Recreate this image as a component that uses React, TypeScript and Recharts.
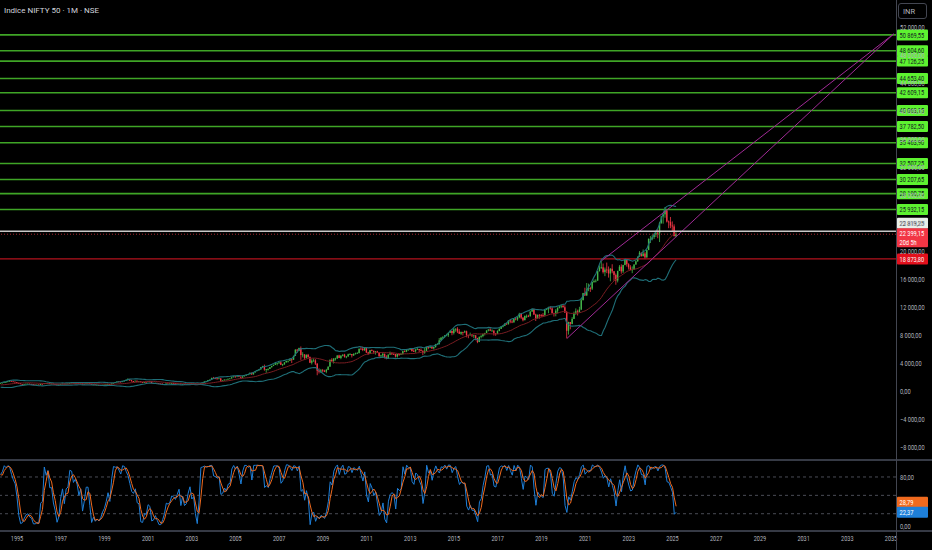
import React from "react"
import { ComposedChart, Bar, Line, XAxis, YAxis, ReferenceLine } from "recharts"

// Monthly NIFTY 50, first bar Jan 1992
const START_YEAR = 1992
const FIRST_OPEN = 600

const CLOSE = [
  620, 830, 1250, 1100, 990, 1000, 920, 880, 920, 850, 800, 800, // 1992
  760, 740, 690, 640, 700, 720, 730, 800, 880, 850, 880, 1020, // 1993
  1200, 1190, 1100, 1150, 1180, 1260, 1270, 1390, 1450, 1370, 1320, 1280, // 1994
  1160, 1090, 990, 960, 1000, 1030, 1040, 1010, 1000, 930, 900, 910, // 1995
  880, 1020, 985, 1120, 1100, 1150, 1060, 1060, 980, 940, 870, 900, // 1996
  1000, 1050, 970, 1050, 1060, 1150, 1190, 1120, 1140, 1110, 1040, 1080, // 1997
  950, 1030, 1120, 1120, 1030, 900, 930, 870, 880, 830, 850, 880, // 1998
  900, 940, 990, 940, 1070, 1140, 1270, 1350, 1330, 1300, 1390, 1480, // 1999
  1550, 1650, 1530, 1410, 1380, 1470, 1330, 1380, 1270, 1170, 1270, 1260, // 2000
  1370, 1350, 1150, 1130, 1160, 1110, 1070, 1050, 910, 970, 1070, 1060, // 2001
  1080, 1140, 1130, 1080, 1030, 1060, 960, 1010, 960, 970, 1050, 1090, // 2002
  1040, 1050, 980, 930, 1010, 1130, 1190, 1360, 1420, 1560, 1620, 1880, // 2003
  1810, 1800, 1770, 1800, 1480, 1510, 1630, 1630, 1750, 1790, 1960, 2080, // 2004
  2060, 2100, 2040, 1900, 2090, 2220, 2310, 2380, 2600, 2370, 2650, 2840, // 2005
  3000, 3070, 3400, 3560, 3070, 3130, 3140, 3410, 3590, 3740, 3950, 3970, // 2006
  4080, 3750, 3820, 4090, 4300, 4320, 4530, 4460, 5020, 5900, 5760, 6140, // 2007
  5140, 5220, 4730, 5170, 4870, 4040, 4330, 4360, 3920, 2890, 2760, 2960, // 2008
  2870, 2760, 3020, 3470, 4450, 4290, 4640, 4660, 5080, 4710, 5030, 5200, // 2009
  4880, 4920, 5250, 5280, 5090, 5310, 5370, 5400, 6030, 6020, 5860, 6130, // 2010
  5510, 5330, 5830, 5750, 5560, 5650, 5480, 5000, 5080, 5330, 4830, 4620, // 2011
  5200, 5380, 5300, 5250, 4920, 5280, 5230, 5260, 5700, 5620, 5880, 5900, // 2012
  6030, 5690, 5680, 5930, 5990, 5840, 5740, 5470, 5740, 6300, 6180, 6300, // 2013
  6090, 6280, 6700, 6700, 7230, 7610, 7720, 7950, 7960, 8320, 8590, 8280, // 2014
  8810, 8900, 8490, 8180, 8430, 8370, 8530, 7970, 7950, 8070, 7940, 7950, // 2015
  7560, 6990, 7740, 7850, 8160, 8290, 8640, 8790, 8610, 8630, 8220, 8190, // 2016
  8560, 8880, 9170, 9300, 9620, 9520, 10080, 9920, 9790, 10340, 10230, 10530, // 2017
  11030, 10490, 10110, 10740, 10740, 10710, 11360, 11680, 10930, 10390, 10880, 10860, // 2018
  10830, 10790, 11620, 11750, 11920, 11790, 11120, 11020, 11470, 11880, 12060, 12170, // 2019
  11960, 11200, 8600, 9860, 9580, 10300, 11070, 11390, 11250, 11640, 12970, 13980, // 2020
  13630, 14530, 14690, 14630, 15580, 15720, 15760, 17130, 17620, 17670, 16980, 17350, // 2021
  17340, 16790, 17460, 17100, 16580, 15780, 17160, 17760, 17090, 18010, 18760, 18110, // 2022
  17660, 17300, 17360, 18070, 18530, 19190, 19750, 19250, 19640, 19080, 20130, 21730, // 2023
  21730, 21980, 22330, 22600, 22530, 24010, 24950, 25240, 25810, 24210, 24130, 23640, // 2024
  23510, 22120, 22399.15, // 2025
]

const HIGH = [
  640, 850, 1300, 1320, 1120, 1050, 1010, 940, 960, 930, 860, 830,
  820, 790, 760, 700, 710, 740, 750, 810, 900, 890, 890, 1030,
  1220, 1250, 1200, 1170, 1200, 1270, 1300, 1400, 1480, 1460, 1390, 1340,
  1290, 1170, 1100, 1000, 1010, 1050, 1070, 1060, 1030, 1010, 940, 930,
  930, 1040, 1030, 1130, 1150, 1180, 1150, 1090, 1060, 990, 950, 920,
  1020, 1080, 1060, 1070, 1080, 1160, 1230, 1200, 1160, 1170, 1110, 1100,
  1090, 1060, 1140, 1150, 1130, 1040, 960, 940, 920, 890, 870, 900,
  920, 960, 1040, 1010, 1080, 1150, 1290, 1370, 1380, 1390, 1400, 1500,
  1640, 1820, 1680, 1600, 1440, 1500, 1490, 1390, 1400, 1290, 1300, 1330,
  1380, 1440, 1380, 1170, 1200, 1170, 1120, 1080, 1060, 990, 1080, 1100,
  1100, 1170, 1180, 1140, 1100, 1070, 1070, 1020, 1020, 980, 1060, 1110,
  1100, 1070, 1070, 990, 1020, 1140, 1200, 1370, 1440, 1580, 1630, 1890,
  2010, 1880, 1860, 1920, 1830, 1540, 1650, 1650, 1760, 1820, 1960, 2090,
  2120, 2110, 2180, 2070, 2100, 2230, 2320, 2420, 2620, 2620, 2660, 2850,
  3010, 3090, 3420, 3600, 3770, 3140, 3250, 3420, 3600, 3760, 3980, 4000,
  4170, 4250, 3880, 4110, 4300, 4330, 4620, 4560, 5050, 5970, 6010, 6190,
  6360, 5550, 5270, 5230, 5300, 4920, 4540, 4650, 4560, 3950, 3240, 3150,
  3150, 3030, 3160, 3520, 4510, 4690, 4670, 4750, 5090, 5180, 5140, 5220,
  5310, 5010, 5330, 5400, 5280, 5370, 5480, 5550, 6070, 6290, 6340, 6150,
  6180, 5600, 5870, 5940, 5630, 5700, 5740, 5550, 5170, 5400, 5330, 5100,
  5220, 5630, 5500, 5380, 5280, 5290, 5350, 5450, 5740, 5820, 5890, 5970,
  6110, 6050, 5970, 5960, 6230, 6010, 6090, 5810, 6140, 6310, 6340, 6420,
  6360, 6290, 6730, 6870, 7560, 7700, 7840, 7970, 8180, 8330, 8620, 8630,
  8990, 8940, 9120, 8840, 8490, 8470, 8650, 8620, 8060, 8340, 8120, 7980,
  7970, 7600, 7780, 7980, 8170, 8310, 8680, 8820, 8970, 8810, 8670, 8270,
  8670, 8980, 9220, 9370, 9650, 9710, 10110, 10140, 10180, 10370, 10490, 10550,
  11170, 11120, 10530, 10760, 10930, 10890, 11370, 11760, 11750, 11040, 10920, 10990,
  10990, 11120, 11630, 11860, 12040, 12100, 11980, 11180, 11690, 11950, 12160, 12290,
  12430, 12250, 11430, 9890, 9600, 10550, 11340, 11800, 11620, 12030, 13150, 14020,
  14750, 15430, 15340, 14900, 15610, 15920, 15960, 17150, 17950, 18600, 18210, 17640,
  18350, 17790, 17560, 18110, 17130, 16790, 17170, 17990, 18100, 18020, 18820, 18890,
  18250, 17970, 17800, 18090, 18660, 19200, 19990, 19800, 20220, 19850, 20160, 21800,
  22130, 22300, 22530, 22790, 23110, 24170, 24990, 25270, 26277, 25910, 24350, 24860,
  24230, 23810, 22680,
]

const LOW = [
  580, 610, 820, 1050, 960, 950, 900, 850, 870, 840, 780, 760,
  740, 720, 660, 620, 630, 690, 700, 720, 790, 830, 840, 870,
  1010, 1150, 1060, 1080, 1130, 1170, 1230, 1260, 1370, 1350, 1300, 1250,
  1140, 1060, 970, 930, 940, 990, 1010, 1000, 980, 910, 880, 880,
  860, 870, 960, 980, 1060, 1090, 1040, 1030, 960, 920, 850, 860,
  890, 990, 960, 950, 1020, 1050, 1140, 1100, 1090, 1060, 1010, 1030,
  930, 940, 1020, 1080, 1000, 880, 880, 840, 850, 800, 810, 840,
  860, 880, 940, 880, 930, 1030, 1130, 1240, 1290, 1250, 1270, 1370,
  1440, 1530, 1420, 1340, 1260, 1370, 1310, 1300, 1230, 1130, 1160, 1250,
  1250, 1330, 1090, 1070, 1120, 1090, 1060, 1040, 850, 900, 970, 1030,
  1040, 1060, 1110, 1070, 1000, 1020, 950, 950, 950, 930, 960, 1040,
  1030, 1010, 980, 920, 930, 1010, 1130, 1190, 1340, 1430, 1560, 1620,
  1730, 1740, 1640, 1760, 1290, 1440, 1500, 1590, 1620, 1720, 1780, 1950,
  1900, 2040, 2020, 1900, 1890, 2080, 2200, 2280, 2390, 2310, 2360, 2650,
  2830, 2920, 3070, 3360, 2900, 2600, 2920, 3140, 3330, 3560, 3720, 3660,
  3890, 3700, 3550, 3740, 4060, 4070, 4290, 4000, 4440, 5000, 5460, 5700,
  4450, 4800, 4470, 4630, 4730, 3990, 3790, 4180, 3720, 2250, 2500, 2570,
  2660, 2700, 2540, 2990, 3480, 4140, 3920, 4350, 4580, 4700, 4540, 4950,
  4770, 4680, 4940, 5160, 4790, 5000, 5230, 5350, 5400, 5940, 5690, 5720,
  5420, 5180, 5350, 5690, 5330, 5200, 5450, 4720, 4760, 4720, 4640, 4530,
  4590, 5160, 5140, 5150, 4790, 4770, 5030, 5160, 5220, 5550, 5550, 5820,
  5890, 5660, 5600, 5480, 5910, 5570, 5680, 5120, 5320, 5700, 5970, 6130,
  6000, 5930, 6210, 6650, 6640, 7240, 7420, 7560, 7840, 7720, 8290, 7960,
  8070, 8470, 8270, 8140, 8000, 7940, 8320, 7670, 7540, 7930, 7710, 7550,
  7240, 6830, 7040, 7520, 7680, 7930, 8290, 8520, 8560, 8510, 7920, 7890,
  8130, 8540, 8860, 9080, 9270, 9450, 9540, 9680, 9690, 9830, 10090, 10030,
  10400, 10280, 9950, 10110, 10420, 10560, 10600, 11300, 10850, 10000, 10340, 10330,
  10580, 10580, 10820, 11550, 11110, 11630, 11100, 10640, 10670, 11090, 11800, 11830,
  11930, 11180, 7511, 8060, 8810, 9540, 10300, 10880, 10790, 11350, 11560, 12960,
  13600, 13660, 14260, 14150, 14420, 15450, 15510, 15830, 17060, 17450, 16780, 16410,
  16840, 16200, 15670, 16820, 15740, 15180, 15510, 17150, 16750, 16860, 17960, 17770,
  17350, 17260, 16830, 17310, 18040, 18460, 19230, 19220, 19260, 18840, 19050, 20180,
  21140, 21530, 21710, 22000, 21820, 21281, 23890, 23900, 24750, 24070, 23260, 23260,
  22790, 22100, 21965,
]

const GREEN_LEVELS = [50869.55, 48604.6, 47126.25, 44653.4, 42609.15, 40063.15, 37782.5, 35463.9, 32507.25, 30207.65, 28190.75, 25932.15]
const WHITE_LEVEL = 22819.25
const LAST_PRICE = 22399.15
const RED_LEVEL = 18873.8
const PRICE_TICKS = [-8000, -4000, 0, 4000, 8000, 12000, 16000, 20000, 24000, 28000, 32000, 36000, 40000, 44000, 48000, 52000]
const YEAR_TICKS = [1995, 1997, 1999, 2001, 2003, 2005, 2007, 2009, 2011, 2013, 2015, 2017, 2019, 2021, 2023, 2025, 2027, 2029, 2031, 2033, 2035]
const CHANNEL_LOW = [{ x: 2020.17, y: 7511 }, { x: 2035.12, y: 51000 }]
const CHANNEL_HIGH = [{ x: 2021.75, y: 18604 }, { x: 2035.12, y: 51000 }]
const STOCH_LEVELS = [20, 50, 80]
const STOCH_K_LAST = 22.37
const STOCH_D_LAST = 28.79

const X_DOMAIN = [1994.222, 2035.229]
const FONT = "Roboto, 'Noto Sans', sans-serif"
const UP = "#43b549"
const DOWN = "#f23645"
const TEXT = "#b2b5be"

const fmt = (v: number) => {
  const [int, dec] = Math.abs(v).toFixed(2).split(".")
  return (v < 0 ? "−" : "") + int.replace(/\B(?=(\d{3})+(?!\d))/g, " ") + "," + dec
}

// squeeze width so the narrow TradingView look fits the 36px price scale
const textLen = (s: string) =>
  s.split("").reduce((w, ch) => w + (/[0-9−]/.test(ch) ? 3.1 : /[ ,]/.test(ch) ? 1.5 : 3.2), 0)

// bars + indicators (Bollinger 20/2, Stochastic 14/1/3) over the full history
const bars = CLOSE.map((close, i) => {
  const open = i === 0 ? FIRST_OPEN : CLOSE[i - 1]
  const high = Math.max(HIGH[i], open, close)
  const low = Math.min(LOW[i], open, close)
  return { t: START_YEAR + i / 12, open, close, high, low, range: [low, high] } as any
})
bars.forEach((d: any, i: number) => {
  if (i >= 19) {
    const win = CLOSE.slice(i - 19, i + 1)
    const mean = win.reduce((s, v) => s + v, 0) / 20
    const sd = Math.sqrt(win.reduce((s, v) => s + (v - mean) ** 2, 0) / 20)
    d.basis = mean
    d.upper = mean + 2 * sd
    d.lower = mean - 2 * sd
  }
  if (i >= 13) {
    const hh = Math.max(...bars.slice(i - 13, i + 1).map((b: any) => b.high))
    const ll = Math.min(...bars.slice(i - 13, i + 1).map((b: any) => b.low))
    d.k = (100 * (d.close - ll)) / (hh - ll)
  }
  if (i >= 15) d.d = (bars[i].k + bars[i - 1].k + bars[i - 2].k) / 3
})
// only the visible window goes to the charts
const data = bars.filter((d: any) => d.t >= X_DOMAIN[0])

function Candle(props: any) {
  const { x, y, width, height, payload } = props
  if (!payload || y == null) return null
  const top = Math.min(y, y + height)
  const h = Math.abs(height)
  const span = payload.high - payload.low || 1
  const py = (v: number) => top + ((payload.high - v) / span) * h
  const color = payload.close >= payload.open ? UP : DOWN
  const cx = x + width / 2
  const b1 = py(Math.max(payload.open, payload.close))
  const b2 = py(Math.min(payload.open, payload.close))
  return (
    <g>
      <line x1={cx} x2={cx} y1={top} y2={top + h} stroke={color} strokeWidth={0.8} />
      <rect x={x} y={b1} width={width} height={Math.max(b2 - b1, 0.8)} fill={color} />
    </g>
  )
}

function Tag(props: any) {
  const { viewBox, text, sub, bg, fg, dy = 0 } = props
  if (!viewBox) return null
  const x = viewBox.x + viewBox.width + 1
  const y = viewBox.y + dy
  const h = sub ? 19 : 11
  return (
    <g>
      <rect x={x} y={y - 5.5} width={31} height={h} fill={bg} rx={1} />
      <text x={x + 2.5} y={y + 2.7} fill={fg} fontSize={7.5} fontFamily={FONT} textLength={textLen(text)} lengthAdjust="spacingAndGlyphs">{text}</text>
      {sub && <text x={x + 2.5} y={y + 11} fill={fg} fontSize={7} fontFamily={FONT} textLength={textLen(sub)} lengthAdjust="spacingAndGlyphs">{sub}</text>}
    </g>
  )
}

const PriceTick = (props: any) => {
  const s = fmt(props.payload.value)
  return (
    <text x={props.x} y={props.y + 2.6} fill={TEXT} fontSize={7.5} fontFamily={FONT} textLength={textLen(s)} lengthAdjust="spacingAndGlyphs">{s}</text>
  )
}

const YearTick = (props: any) => {
  const s = String(props.payload.value)
  return (
    <text x={props.x} y={props.y + 6} fill={TEXT} fontSize={7.5} fontFamily={FONT} textAnchor="middle" textLength={textLen(s)} lengthAdjust="spacingAndGlyphs">{s}</text>
  )
}

export default function App() {
  return (
    <div style={{ position: "absolute", left: 0, top: 0, width: 932, height: 550, background: "#000", overflow: "hidden", fontFamily: FONT }}>
      <ComposedChart width={932} height={461} data={data} margin={{ top: 0, right: 0, bottom: 0, left: 0 }}>
        <XAxis dataKey="t" type="number" domain={X_DOMAIN} allowDataOverflow hide />
        <YAxis orientation="right" width={36} domain={[-10000, 55857]} allowDataOverflow ticks={PRICE_TICKS} interval={0} axisLine={false} tickLine={false} tickSize={2} tickMargin={2} tick={<PriceTick />} />
        {GREEN_LEVELS.map((v) => (
          <ReferenceLine key={v} y={v} stroke="#3fa526" strokeWidth={1.6} label={<Tag text={fmt(v)} bg="#5df230" fg="#131722" />} />
        ))}
        <ReferenceLine y={RED_LEVEL} stroke="#b3121c" strokeWidth={1.2} label={<Tag text={fmt(RED_LEVEL)} bg="#e3101c" fg="#f5f5f5" />} />
        <Line dataKey="upper" stroke="#1f6f78" strokeWidth={1.1} dot={false} activeDot={false} isAnimationActive={false} />
        <Line dataKey="lower" stroke="#1f6f78" strokeWidth={1.1} dot={false} activeDot={false} isAnimationActive={false} />
        <Line dataKey="basis" stroke="#7a1d22" strokeWidth={1} dot={false} activeDot={false} isAnimationActive={false} />
        <Bar dataKey="range" barSize={1.4} shape={<Candle />} activeBar={false} isAnimationActive={false} />
        <ReferenceLine segment={CHANNEL_LOW} stroke="#a02a95" strokeWidth={1} />
        <ReferenceLine segment={CHANNEL_HIGH} stroke="#a02a95" strokeWidth={1} />
        <ReferenceLine y={WHITE_LEVEL} stroke="#c8c8c8" strokeWidth={1.6} label={<Tag text={fmt(WHITE_LEVEL)} bg="#e9efe9" fg="#131722" dy={-8} />} />
        <ReferenceLine y={LAST_PRICE} stroke="#a3252c" strokeWidth={1} strokeDasharray="1 2" label={<Tag text={fmt(LAST_PRICE)} sub="20d 5h" bg="#f23645" fg="#ffffff" dy={-0.5} />} />
      </ComposedChart>

      <div style={{ position: "absolute", left: 0, top: 459, width: 932, height: 2, background: "#363a45" }} />
      <div style={{ position: "absolute", left: 0, top: 530, width: 932, height: 2, background: "#363a45" }} />

      <div style={{ position: "absolute", left: 0, top: 461 }}>
        <ComposedChart width={932} height={89} data={data} margin={{ top: 0, right: 0, bottom: 0, left: 0 }}>
          <XAxis dataKey="t" type="number" domain={X_DOMAIN} allowDataOverflow ticks={YEAR_TICKS} interval={0} height={19} axisLine={false} tickLine={false} tickSize={2} tickMargin={2} tick={<YearTick />} />
          <YAxis orientation="right" width={36} domain={[-8.2, 106.1]} allowDataOverflow ticks={[0, 80]} interval={0} axisLine={false} tickLine={false} tickSize={2} tickMargin={2} tick={<PriceTick />} />
          {STOCH_LEVELS.map((v) => (
            <ReferenceLine key={v} y={v} stroke="#5d606b" strokeDasharray="3 3" strokeWidth={0.8} />
          ))}
          <Line dataKey="k" stroke="#1e7fd8" strokeWidth={1} dot={false} activeDot={false} isAnimationActive={false} />
          <Line dataKey="d" stroke="#f06a1e" strokeWidth={1} dot={false} activeDot={false} isAnimationActive={false} />
          <ReferenceLine y={STOCH_D_LAST} strokeOpacity={0} label={<Tag text={STOCH_D_LAST.toFixed(2).replace(".", ",")} bg="#f06a1e" fg="#ffffff" dy={-6} />} />
          <ReferenceLine y={STOCH_K_LAST} strokeOpacity={0} label={<Tag text={STOCH_K_LAST.toFixed(2).replace(".", ",")} bg="#1e7fd8" fg="#ffffff" />} />
        </ComposedChart>
      </div>

      <div style={{ position: "absolute", left: 896, top: 0, width: 1, height: 550, background: "#434651" }} />
      <div style={{ position: "absolute", left: 4, top: 6, color: "#d1d4dc", fontSize: 8, whiteSpace: "nowrap" }}>Indice NIFTY 50 · 1M · NSE</div>
      <div style={{ position: "absolute", left: 898, top: 3, width: 29, height: 16, border: "1px solid #434651", borderRadius: 3, color: TEXT, fontSize: 7.5, lineHeight: "16px", paddingLeft: 4, boxSizing: "border-box" }}>INR</div>
    </div>
  )
}
